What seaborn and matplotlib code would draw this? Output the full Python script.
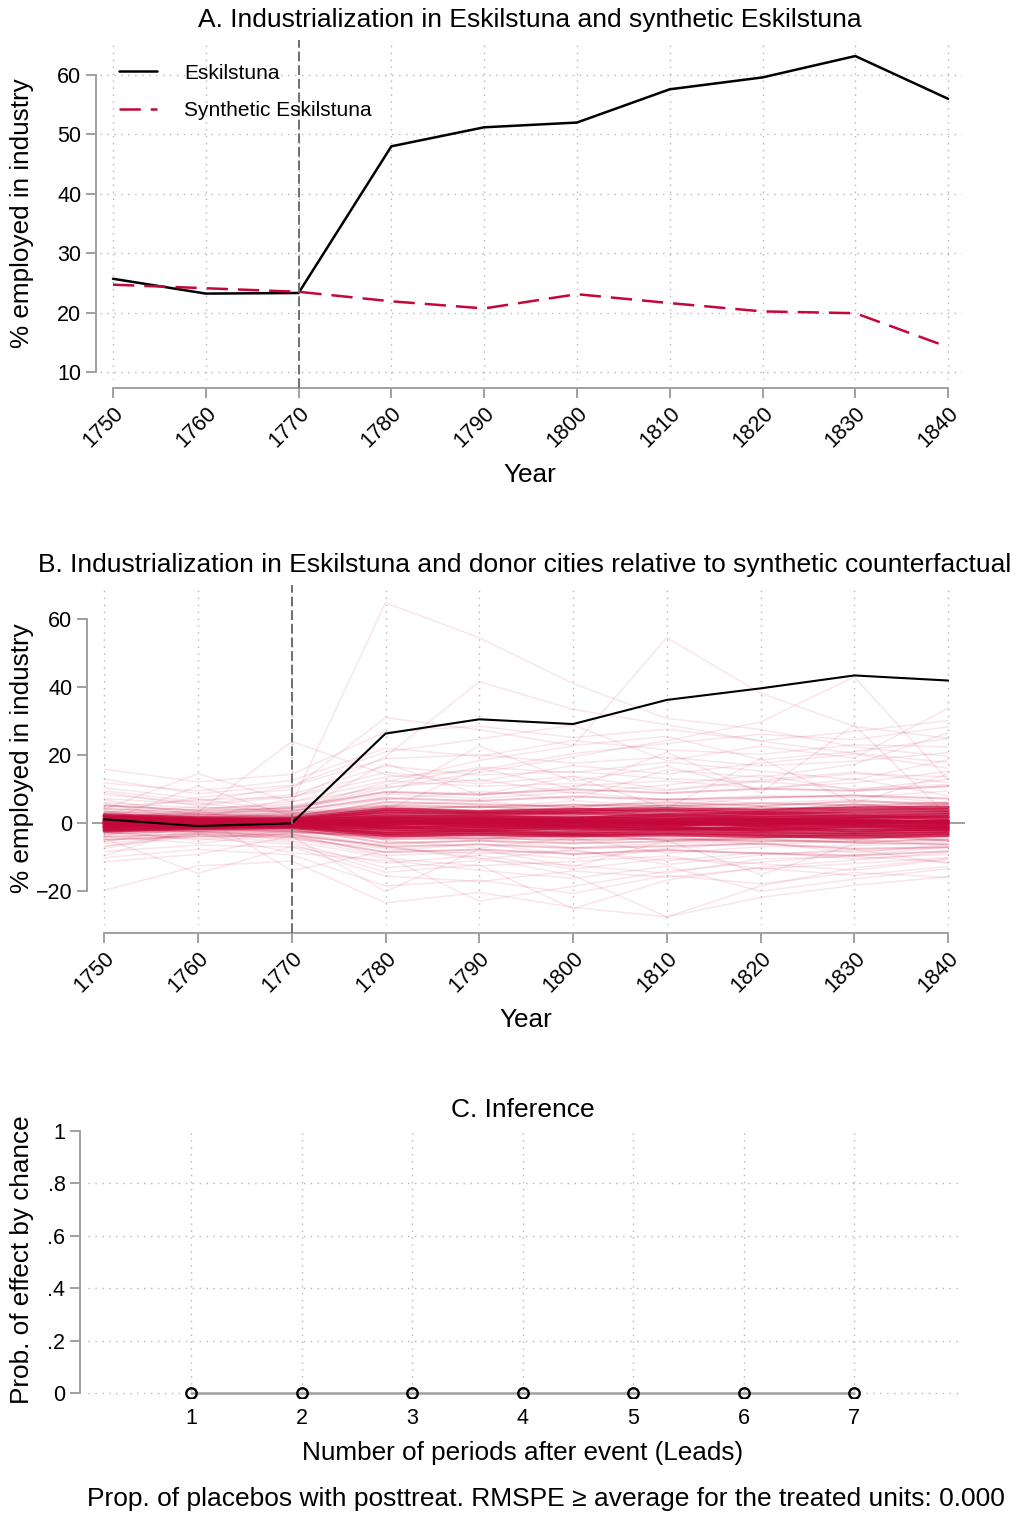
import numpy as np
import pandas as pd
import matplotlib
matplotlib.use("Agg")
import matplotlib.pyplot as plt
import seaborn as sns

sns.set_theme(style="white")
plt.rcParams['font.family'] = ['Liberation Sans', 'DejaVu Sans']
plt.rcParams['text.color'] = 'black'
plt.rcParams['axes.labelcolor'] = 'black'
plt.rcParams['xtick.color'] = 'black'
plt.rcParams['ytick.color'] = 'black'

# ---------------- data ----------------
years = [1750, 1760, 1770, 1780, 1790, 1800, 1810, 1820, 1830, 1840]
eskilstuna = [25.7, 23.2, 23.3, 48.0, 51.2, 52.0, 57.6, 59.6, 63.2, 56.0]
synthetic = [24.7, 24.1, 23.5, 21.9, 20.7, 23.1, 21.6, 20.2, 19.9, 14.2]

eskilstuna_gap = [1.1, -0.9, -0.1, 26.3, 30.5, 29.1, 36.2, 39.6, 43.4, 41.9]

placebo_core = [
    [0.5, 0.3, 0.2, 1.0, 0.8, 0.5, 0.9, 1.2, 0.6, 0.4],
    [-0.4, -0.2, 0.1, -0.8, -0.5, -0.9, -0.3, -0.6, -1.0, -0.7],
    [1.2, 0.8, 0.6, 2.0, 1.5, 1.8, 1.1, 2.2, 1.7, 2.5],
    [-1.1, -0.6, -0.4, -1.8, -2.1, -1.4, -1.9, -1.2, -2.3, -1.6],
    [0.2, -0.3, 0.4, 0.3, -0.2, 0.6, 0.1, -0.4, 0.5, -0.1],
    [1.6, 1.0, 0.9, 2.8, 2.4, 2.9, 2.2, 3.0, 2.6, 3.1],
    [-1.5, -1.0, -0.8, -2.6, -2.2, -2.8, -2.0, -2.5, -2.9, -2.4],
    [0.8, 0.5, -0.2, 1.4, 0.9, 1.1, 1.6, 0.7, 1.3, 1.9],
    [-0.7, -0.4, 0.3, -1.2, -1.6, -0.6, -1.3, -1.8, -0.8, -1.4],
    [0.1, 0.2, -0.1, 0.6, 0.2, -0.3, 0.4, 0.9, 0.1, 0.8],
    [2.0, 1.2, 1.1, 3.4, 2.9, 3.2, 3.6, 2.8, 3.5, 3.8],
    [-2.0, -1.3, -1.0, -3.1, -2.7, -3.3, -2.9, -3.2, -3.4, -3.0],
    [0.3, 0.9, 0.5, 0.2, 1.2, 0.4, -0.5, 0.3, -0.2, 0.6],
    [-0.2, -0.8, -0.5, -0.3, 0.4, -1.1, -0.8, 0.2, -0.5, -1.2],
    [1.0, 0.4, 0.7, 1.7, 1.9, 1.3, 2.5, 1.6, 2.0, 1.5],
    [-0.9, -0.1, -0.6, -1.5, -0.9, -1.9, -1.5, -2.1, -1.7, -2.0],
    [0.6, -0.5, 0.0, -0.4, 0.6, 0.9, -0.1, 1.1, 0.9, 0.3],
    [-1.3, 0.4, -0.3, 0.8, -1.0, 0.2, 0.7, -0.9, 0.3, -0.4],
    [2.4, 1.5, 1.4, 4.0, 3.3, 3.9, 4.2, 3.7, 4.4, 4.6],
    [-2.3, -1.6, -1.3, -3.6, -3.4, -3.7, -3.5, -3.9, -4.1, -3.6],
]

placebo_near = [
    [2.8, 1.9, 2.2, 5.1, 4.6, 5.4, 4.9, 5.8, 5.2, 6.0],
    [-2.7, -1.8, -2.1, -4.8, -4.4, -5.0, -4.6, -5.3, -5.5, -4.9],
    [3.3, 2.6, 1.8, 6.2, 5.5, 4.8, 6.1, 5.0, 6.4, 5.7],
    [-3.0, -2.3, -1.7, -5.9, -5.2, -6.0, -5.4, -4.7, -5.8, -6.2],
    [1.9, 2.4, 2.9, 4.4, 3.7, 4.1, 3.3, 4.6, 3.9, 4.3],
    [-1.6, -2.6, -2.7, -4.0, -3.5, -4.3, -3.1, -3.8, -4.4, -3.9],
    [4.2, 3.0, 3.6, 7.3, 6.5, 7.8, 6.9, 7.5, 8.1, 7.2],
    [-4.1, -3.1, -3.4, -7.0, -6.3, -7.4, -6.8, -6.1, -7.6, -7.1],
    [0.7, 1.7, 2.5, 3.9, 4.9, 3.6, 5.3, 4.0, 4.8, 5.4],
    [-0.3, -1.9, -2.5, -3.7, -4.7, -3.4, -5.1, -4.2, -3.6, -5.2],
    [2.3, 0.9, 1.6, 4.8, 3.1, 4.5, 2.8, 3.4, 5.6, 3.5],
    [-2.1, -1.1, -1.4, -4.4, -2.8, -4.0, -2.6, -3.3, -4.9, -2.9],
    [5.2, 3.6, 4.4, 9.2, 8.4, 9.9, 8.8, 10.1, 9.5, 10.8],
    [-4.9, -3.7, -4.0, -8.6, -7.8, -9.1, -8.0, -8.9, -9.6, -8.3],
]

placebo_spread = [
    [3.5, 2.1, 4.2, 8.5, 7.2, 9.1, 6.8, 8.0, 7.5, 9.4],
    [-3.2, -2.5, -3.8, -6.4, -5.1, -7.2, -6.0, -5.5, -4.8, -6.6],
    [5.1, 3.8, 6.3, 12.4, 10.8, 11.6, 9.5, 12.2, 10.1, 11.3],
    [-5.0, -4.2, -3.1, -9.6, -8.4, -10.5, -7.9, -9.0, -8.3, -7.1],
    [7.2, 5.5, 8.4, 16.8, 14.1, 15.2, 13.0, 12.1, 14.5, 13.6],
    [-6.8, -3.9, -5.6, -13.2, -11.0, -12.4, -14.8, -10.6, -9.8, -11.5],
    [2.6, 4.8, 3.1, 5.2, 6.4, 4.3, 7.1, 5.8, 6.9, 4.9],
    [-2.4, -5.1, -2.2, -4.6, -3.8, -5.9, -4.1, -6.3, -5.2, -3.7],
    [9.5, 6.2, 10.8, 18.9, 20.1, 17.6, 19.4, 16.8, 18.2, 20.7],
    [-8.4, -6.5, -7.1, -15.6, -17.2, -14.1, -16.0, -13.3, -15.4, -12.8],
    [11.8, 9.4, 12.5, 22.0, 19.6, 24.3, 21.5, 20.2, 23.0, 22.4],
    [-10.2, -7.8, -9.4, -18.5, -16.8, -20.7, -15.4, -17.9, -14.6, -16.0],
    [15.8, 12.1, 14.3, 26.8, 28.5, 25.1, 27.6, 24.2, 26.9, 30.1],
    [-19.8, -12.6, -11.2, -23.5, -20.4, -24.8, -27.6, -21.9, -18.3, -15.8],
    [4.1, 14.5, 6.2, 10.5, 12.8, 8.7, 11.2, 14.1, 9.6, 12.9],
    [-4.5, -14.8, -6.9, -11.8, -9.5, -13.6, -10.4, -12.0, -13.9, -10.7],
    [1.5, 3.2, 24.0, 14.2, 11.5, 13.8, 9.8, 12.6, 15.0, 11.9],
    [-1.8, 2.4, -14.0, -8.2, -6.1, -9.3, -7.5, -5.8, -8.8, -6.4],
    [3.0, 7.5, 9.8, 31.0, 27.4, 22.8, 25.5, 18.6, 21.0, 24.8],
    [0.9, 4.1, 5.6, 64.8, 54.5, 41.0, 30.8, 27.5, 22.4, 19.6],
    [2.1, 1.4, 7.2, 19.5, 41.6, 33.4, 28.9, 24.1, 20.5, 17.8],
    [-1.2, 0.8, 3.6, 12.0, 18.4, 22.6, 54.5, 38.2, 28.4, 24.9],
    [1.8, 2.9, 4.5, 10.2, 14.8, 19.5, 24.2, 29.7, 43.0, 12.5],
    [-3.6, -2.0, -4.4, -9.8, -23.0, -18.6, -14.2, -11.5, -9.4, -7.2],
    [-2.8, -4.6, -6.2, -14.5, -12.3, -25.2, -16.8, -13.0, -10.9, -8.6],
    [-0.5, -1.5, -2.4, -6.8, -10.2, -15.4, -27.6, -18.5, -13.2, -10.4],
    [6.0, 4.4, 5.0, 9.0, 8.1, 10.9, 12.4, 10.3, 11.8, 15.2],
    [-6.1, -3.3, -4.7, -7.5, -9.0, -8.1, -11.1, -8.7, -10.5, -9.2],
    [8.3, 5.9, 2.8, 6.9, 9.3, 7.0, 15.6, 13.4, 17.3, 26.5],
    [-7.5, -2.9, -8.8, -11.0, -13.9, -16.3, -12.7, -20.1, -16.5, -13.4],
    [0.4, 10.9, 1.9, 5.8, 4.6, 6.5, 5.1, 7.4, 8.2, 6.0],
    [-9.6, -1.0, 0.8, -5.2, -7.3, -4.4, -8.9, -7.0, -6.7, -5.5],
    [12.9, 8.6, 11.1, 20.9, 24.7, 28.8, 18.3, 22.6, 19.1, 33.8],
    [-4.0, 3.6, -1.6, 3.8, 16.1, 10.1, 20.8, 8.9, 28.8, 2.0],
    [3.9, -2.7, 2.5, 17.5, 8.3, 13.7, 4.2, 18.9, 5.9, 14.4],
    [-11.4, -9.2, -3.9, -20.2, -7.7, -12.9, -5.1, -15.2, -6.2, -4.1],
    [10.4, 7.1, 3.4, 7.8, 22.7, 12.3, 16.7, 9.7, 13.1, 8.0],
    [5.8, 0.6, 1.0, 4.7, 3.5, 5.4, 3.9, 4.9, 3.4, 5.6],
    [-5.7, -0.7, -1.9, -4.2, -3.2, -4.9, -3.6, -4.5, -3.1, -4.8],
    [4.6, 6.8, 7.6, 13.5, 15.6, 20.4, 23.4, 26.1, 24.5, 28.3],
    [6.9, 2.2, 4.9, 11.2, 16.4, 14.8, 17.9, 15.3, 12.7, 18.6],
    [-7.0, -2.4, -5.2, -10.4, -12.6, -11.3, -9.7, -13.5, -11.9, -10.2],
    [9.0, 5.1, 7.8, 14.9, 12.2, 16.9, 14.4, 17.6, 20.3, 16.1],
    [-3.9, -6.0, -2.9, -6.9, -10.7, -7.9, -12.2, -9.4, -7.8, -11.9],
]

leads = [1, 2, 3, 4, 5, 6, 7]
prob_chance = [0, 0, 0, 0, 0, 0, 0]
ytick_c = [0, 0.2, 0.4, 0.6, 0.8, 1.0]
ytick_c_labels = ["0", ".2", ".4", ".6", ".8", "1"]
rmspe_note = "Prop. of placebos with posttreat. RMSPE \u2265 average for the treated units: 0.000"

# ---------------- style ----------------
W, H = 1018, 1514
RED = "#C5073A"
AXC = "#A0A0A0"
GRIDC = "#B5B5B5"
TICK_FS = 15.5
LAB_FS = 18.8
TITLE_FS = 19
NOTE_FS = 19

fig = plt.figure(figsize=(W / 100, H / 100), dpi=100)
fig.patch.set_facecolor("white")


def px_axes(l, t, r, b):
    return fig.add_axes([l / W, 1 - b / H, (r - l) / W, (b - t) / H])


def ftext(x, y, s, **kw):
    fig.text(x / W, 1 - y / H, s, color="black", **kw)


def style_axes(ax, left_out, bottom_out, ybounds, xbounds, bottom_visible=True):
    for s in ["top", "right"]:
        ax.spines[s].set_visible(False)
    ax.spines["left"].set_position(("outward", left_out * 0.72))
    ax.spines["bottom"].set_position(("outward", bottom_out * 0.72))
    for s in ["left", "bottom"]:
        ax.spines[s].set_color(AXC)
        ax.spines[s].set_linewidth(1.4)
    ax.spines["left"].set_bounds(*ybounds)
    if bottom_visible:
        ax.spines["bottom"].set_bounds(*xbounds)
    else:
        ax.spines["bottom"].set_visible(False)
    ax.tick_params(axis="both", which="both", direction="out", length=7, width=1.4,
                   color=AXC, labelsize=TICK_FS, labelcolor="black",
                   left=True, bottom=bottom_visible)
    ax.set_xlabel("")
    ax.set_ylabel("")
    ax.set_facecolor("white")


def vgrid(ax, xs):
    for x in xs:
        ax.axvline(x, color=GRIDC, lw=1.0, ls=(0, (1, 4)), zorder=0)


def hgrid(ax, ys):
    for y in ys:
        ax.axhline(y, color=GRIDC, lw=1.0, ls=(0, (1, 4)), zorder=0)


# ================= Panel A =================
axA = px_axes(100, 40, 962, 380)
sns.lineplot(x=years, y=eskilstuna, color="black", lw=1.8, ax=axA, label="Eskilstuna")
sns.lineplot(x=years, y=synthetic, color=RED, lw=1.8, ax=axA, label="Synthetic Eskilstuna",
             linestyle=(0, (8.5, 4)))
axA.set_xlim(1748.6, 1841.5)
axA.set_ylim(8.65, 65.9)
axA.set_xticks(years)
axA.set_yticks([10, 20, 30, 40, 50, 60])
vgrid(axA, years)
hgrid(axA, [10, 20, 30, 40, 50, 60])
style_axes(axA, 4, 8, (10, 60), (1750, 1840))
axA.axvline(1770, ymin=-8 / 340, ymax=1, color="#6E6E6E", lw=1.4, ls=(0, (5, 2)),
            clip_on=False, zorder=3)
plt.setp(axA.get_xticklabels(), rotation=45, ha="right", rotation_mode="anchor")
leg = axA.legend(loc="upper left", frameon=False, fontsize=15, handlelength=1.85,
                 handletextpad=1.3, labelspacing=0.9, borderaxespad=0.0,
                 bbox_to_anchor=(0.012, 0.955))
for t in leg.get_texts():
    t.set_color("black")
ftext(530, 20, "A. Industrialization in Eskilstuna and synthetic Eskilstuna",
      ha="center", va="center", fontsize=TITLE_FS)
ftext(530, 475, "Year", ha="center", va="center", fontsize=LAB_FS)
ftext(22, 213, "% employed in industry", ha="center", va="center", rotation=90,
      fontsize=LAB_FS)

# ================= Panel B =================
axB = px_axes(92, 585, 965, 925)


def long_df(rows):
    recs = []
    for i, row in enumerate(rows):
        for yr, v in zip(years, row):
            recs.append({"unit": i, "year": yr, "gap": v})
    return pd.DataFrame(recs)


vgrid(axB, years)
axB.axhline(0, color=AXC, lw=1.4, zorder=1)
sns.lineplot(data=long_df(placebo_spread), x="year", y="gap", units="unit",
             estimator=None, color=RED, alpha=0.10, lw=1.1, ax=axB, legend=False)
sns.lineplot(data=long_df(placebo_near), x="year", y="gap", units="unit",
             estimator=None, color=RED, alpha=0.25, lw=1.4, ax=axB, legend=False)
sns.lineplot(data=long_df(placebo_core), x="year", y="gap", units="unit",
             estimator=None, color=RED, alpha=0.75, lw=2.4, ax=axB, legend=False)
sns.lineplot(x=years, y=eskilstuna_gap, color="black", lw=1.5, ax=axB)
axB.set_xlim(1748.7, 1841.8)
axB.set_ylim(-30, 70)
axB.set_xticks(years)
axB.set_yticks([-20, 0, 20, 40, 60])
style_axes(axB, 5, 8, (-20, 60), (1750, 1840))
axB.axvline(1770, ymin=-8 / 340, ymax=1, color="#6E6E6E", lw=1.4, ls=(0, (5, 2)),
            clip_on=False, zorder=4)
plt.setp(axB.get_xticklabels(), rotation=45, ha="right", rotation_mode="anchor")
ftext(525, 565, "B. Industrialization in Eskilstuna and donor cities relative to synthetic counterfactual",
      ha="center", va="center", fontsize=TITLE_FS)
ftext(526, 1020, "Year", ha="center", va="center", fontsize=LAB_FS)
ftext(22, 758, "% employed in industry", ha="center", va="center", rotation=90,
      fontsize=LAB_FS)

# ================= Panel C =================
axC = px_axes(88, 1131, 963, 1398)
vgrid(axC, leads)
hgrid(axC, [0, 0.2, 0.4, 0.6, 0.8])
sns.lineplot(x=leads, y=prob_chance, color=AXC, lw=1.8, ax=axC, marker="o",
             markersize=7.5, markerfacecolor="none", markeredgecolor="black",
             markeredgewidth=1.7, zorder=3)
axC.set_xlim(0.068, 7.986)
axC.set_ylim(-0.019, 1.0)
axC.set_xticks(leads)
axC.set_xticklabels([str(v) for v in leads])
axC.set_yticks(ytick_c)
axC.set_yticklabels(ytick_c_labels)
style_axes(axC, 8, 0, (0, 1), (1, 7), bottom_visible=False)
axC.tick_params(axis="x", length=0, pad=7)
for sp in axC.spines.values():
    sp.set_clip_on(False)
ftext(523, 1110, "C. Inference", ha="center", va="center", fontsize=TITLE_FS)
ftext(523, 1453, "Number of periods after event (Leads)", ha="center", va="center",
      fontsize=LAB_FS)
ftext(546, 1499, rmspe_note, ha="center", va="center", fontsize=NOTE_FS)
ftext(22, 1260, "Prob. of effect by chance", ha="center", va="center", rotation=90,
      fontsize=LAB_FS)

fig.savefig("out.png", dpi=100, facecolor="white")
